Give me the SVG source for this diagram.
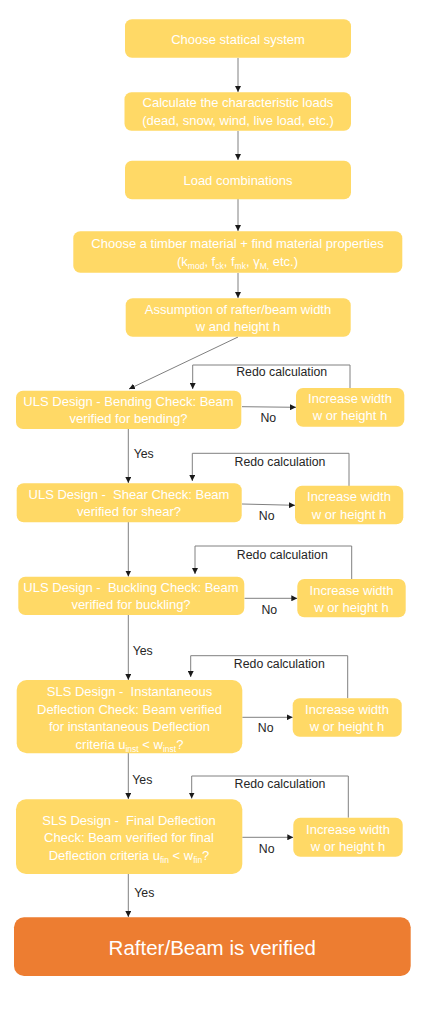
<svg xmlns="http://www.w3.org/2000/svg" width="433" height="1024" viewBox="0 0 433 1024">
<defs>
<marker id="ah" viewBox="0 0 6 6" refX="6" refY="3" markerWidth="6" markerHeight="6" markerUnits="userSpaceOnUse" orient="auto">
<path d="M0,0 L6,3 L0,6 z" fill="#1a1a1a"/>
</marker>
<style>
.box{fill:#FFD966;}
.fin{fill:#ED7D31;}
.t{font-family:"Liberation Sans",Arial,sans-serif;font-size:13px;fill:#ffffff;text-anchor:middle;}
.tb{font-family:"Liberation Sans",Arial,sans-serif;font-size:20.5px;fill:#ffffff;text-anchor:middle;}
.lb{font-family:"Liberation Sans",Arial,sans-serif;font-size:12.3px;fill:#262626;text-anchor:middle;}
.c{fill:none;stroke:#808080;stroke-width:1;}
.a{marker-end:url(#ah);}
.s{font-size:8.5px;}
</style>
</defs>
<rect width="433" height="1024" fill="#ffffff"/>

<g id="connectors">
<line class="c a" x1="238" y1="58" x2="238" y2="92"/>
<line class="c a" x1="238" y1="131" x2="238" y2="160"/>
<line class="c a" x1="238" y1="199" x2="238" y2="231"/>
<line class="c a" x1="238" y1="273" x2="238" y2="298"/>
<line class="c a" x1="238" y1="337" x2="129" y2="389"/>
<line class="c a" x1="242" y1="406.7" x2="296" y2="407.3"/>
<polyline class="c a" points="350,388 350,365 192.7,365 192.7,389"/>
<line class="c a" x1="128.3" y1="429" x2="128.3" y2="483"/>
<line class="c a" x1="242" y1="504" x2="295" y2="505.3"/>
<polyline class="c a" points="349,486 349,453.3 192.3,453.3 192.3,481"/>
<line class="c a" x1="128.3" y1="522" x2="128.3" y2="576.5"/>
<line class="c a" x1="244.5" y1="598.3" x2="297.3" y2="598.3"/>
<polyline class="c a" points="351.7,579 351.7,546 195,546 195,574"/>
<line class="c a" x1="128.3" y1="615" x2="128.3" y2="680"/>
<line class="c a" x1="242.3" y1="717.3" x2="292.7" y2="717.3"/>
<polyline class="c a" points="347.7,698.3 347.7,655.7 190.7,655.7 190.7,677"/>
<line class="c a" x1="128.3" y1="753" x2="128.3" y2="799"/>
<line class="c a" x1="242.3" y1="837.3" x2="293.3" y2="837.3"/>
<polyline class="c a" points="348.3,817.7 348.3,776 191.7,776 191.7,798.5"/>
<line class="c a" x1="128.3" y1="874" x2="128.3" y2="917"/>

<text class="lb" x="281.7" y="376">Redo calculation</text>
<text class="lb" x="268.3" y="422">No</text>
<text class="lb" x="143.7" y="458">Yes</text>
<text class="lb" x="280" y="466">Redo calculation</text>
<text class="lb" x="266.7" y="520">No</text>
<text class="lb" x="282.3" y="559">Redo calculation</text>
<text class="lb" x="269.3" y="613.5">No</text>
<text class="lb" x="142.7" y="655">Yes</text>
<text class="lb" x="279.3" y="667.5">Redo calculation</text>
<text class="lb" x="265.7" y="731.5">No</text>
<text class="lb" x="142.3" y="783.5">Yes</text>
<text class="lb" x="280" y="787.5">Redo calculation</text>
<text class="lb" x="266.7" y="852.5">No</text>
<text class="lb" x="144.3" y="896.5">Yes</text>
</g>

<g id="n1">
<rect class="box" x="125" y="19.3" width="226" height="38.4" rx="7"/>
<text class="t" x="238" y="44">Choose statical system</text>
</g>
<g id="n2">
<rect class="box" x="124.5" y="92.3" width="226.5" height="38.4" rx="7"/>
<text class="t" x="238" y="107">Calculate the characteristic loads</text>
<text class="t" x="238" y="124.5">(dead, snow, wind, live load, etc.)</text>
</g>
<g id="n3">
<rect class="box" x="125" y="160.7" width="226" height="38.6" rx="7"/>
<text class="t" x="238" y="184.5">Load combinations</text>
</g>
<g id="n4">
<rect class="box" x="73.3" y="231.3" width="329" height="41.4" rx="7"/>
<text class="t" x="237.5" y="248">Choose a timber material + find material properties</text>
<text class="t" x="237.5" y="266">(k<tspan class="s" dy="3">mod</tspan><tspan dy="-3">, f</tspan><tspan class="s" dy="3">ck</tspan><tspan dy="-3">, f</tspan><tspan class="s" dy="3">mk</tspan><tspan dy="-3">, γ</tspan><tspan class="s" dy="3">M,</tspan><tspan dy="-3"> etc.)</tspan></text>
</g>
<g id="n5">
<rect class="box" x="125.7" y="298.3" width="225" height="38.4" rx="7"/>
<text class="t" x="238" y="313.5">Assumption of rafter/beam width</text>
<text class="t" x="238" y="331">w and height h</text>
</g>
<g id="n6">
<rect class="box" x="16" y="390.7" width="225.3" height="38.3" rx="7"/>
<text class="t" x="128.5" y="405.5">ULS Design - Bending Check: Beam</text>
<text class="t" x="128.5" y="423">verified for bending?</text>
</g>
<g id="n6b">
<rect class="box" x="296" y="388" width="108.3" height="38.7" rx="7"/>
<text class="t" x="350" y="403">Increase width</text>
<text class="t" x="350" y="420">w or height h</text>
</g>
<g id="n7">
<rect class="box" x="16.7" y="483.3" width="225" height="39" rx="7"/>
<text class="t" x="129" y="499" xml:space="preserve">ULS Design -  Shear Check: Beam</text>
<text class="t" x="129" y="516">verified for shear?</text>
</g>
<g id="n7b">
<rect class="box" x="295" y="485.7" width="108.3" height="38.6" rx="7"/>
<text class="t" x="349" y="501">Increase width</text>
<text class="t" x="349" y="518.5">w or height h</text>
</g>
<g id="n8">
<rect class="box" x="18.3" y="576.7" width="226" height="38.3" rx="7"/>
<text class="t" x="131" y="592" xml:space="preserve">ULS Design -  Buckling Check: Beam</text>
<text class="t" x="131" y="609">verified for buckling?</text>
</g>
<g id="n8b">
<rect class="box" x="297.3" y="579" width="108.4" height="38.3" rx="7"/>
<text class="t" x="351.5" y="594.5">Increase width</text>
<text class="t" x="351.5" y="612">w or height h</text>
</g>
<g id="n9">
<rect class="box" x="16.7" y="680" width="225.6" height="73.3" rx="10"/>
<text class="t" x="129.5" y="696" xml:space="preserve">SLS Design -  Instantaneous</text>
<text class="t" x="129.5" y="713.5">Deflection Check: Beam verified</text>
<text class="t" x="129.5" y="730.5">for instantaneous Deflection</text>
<text class="t" x="129.5" y="748.5">criteria u<tspan class="s" dy="3">inst</tspan><tspan dy="-3"> &lt; w</tspan><tspan class="s" dy="3">inst</tspan><tspan dy="-3">?</tspan></text>
</g>
<g id="n9b">
<rect class="box" x="292.7" y="698.3" width="109" height="38.4" rx="7"/>
<text class="t" x="347" y="713.5">Increase width</text>
<text class="t" x="347" y="730.5">w or height h</text>
</g>
<g id="n10">
<rect class="box" x="16" y="799.3" width="226.3" height="74.7" rx="10"/>
<text class="t" x="129" y="824.5" xml:space="preserve">SLS Design -  Final Deflection</text>
<text class="t" x="129" y="842">Check: Beam verified for final</text>
<text class="t" x="129" y="859.5">Deflection criteria u<tspan class="s" dy="3">fin</tspan><tspan dy="-3"> &lt; w</tspan><tspan class="s" dy="3">fin</tspan><tspan dy="-3">?</tspan></text>
</g>
<g id="n10b">
<rect class="box" x="293.3" y="817.7" width="109.4" height="39" rx="7"/>
<text class="t" x="348" y="833.5">Increase width</text>
<text class="t" x="348" y="850.5">w or height h</text>
</g>
<g id="final">
<rect class="fin" x="14" y="917.3" width="396.7" height="58.7" rx="10"/>
<text class="tb" x="212.3" y="955">Rafter/Beam is verified</text>
</g>
</svg>
